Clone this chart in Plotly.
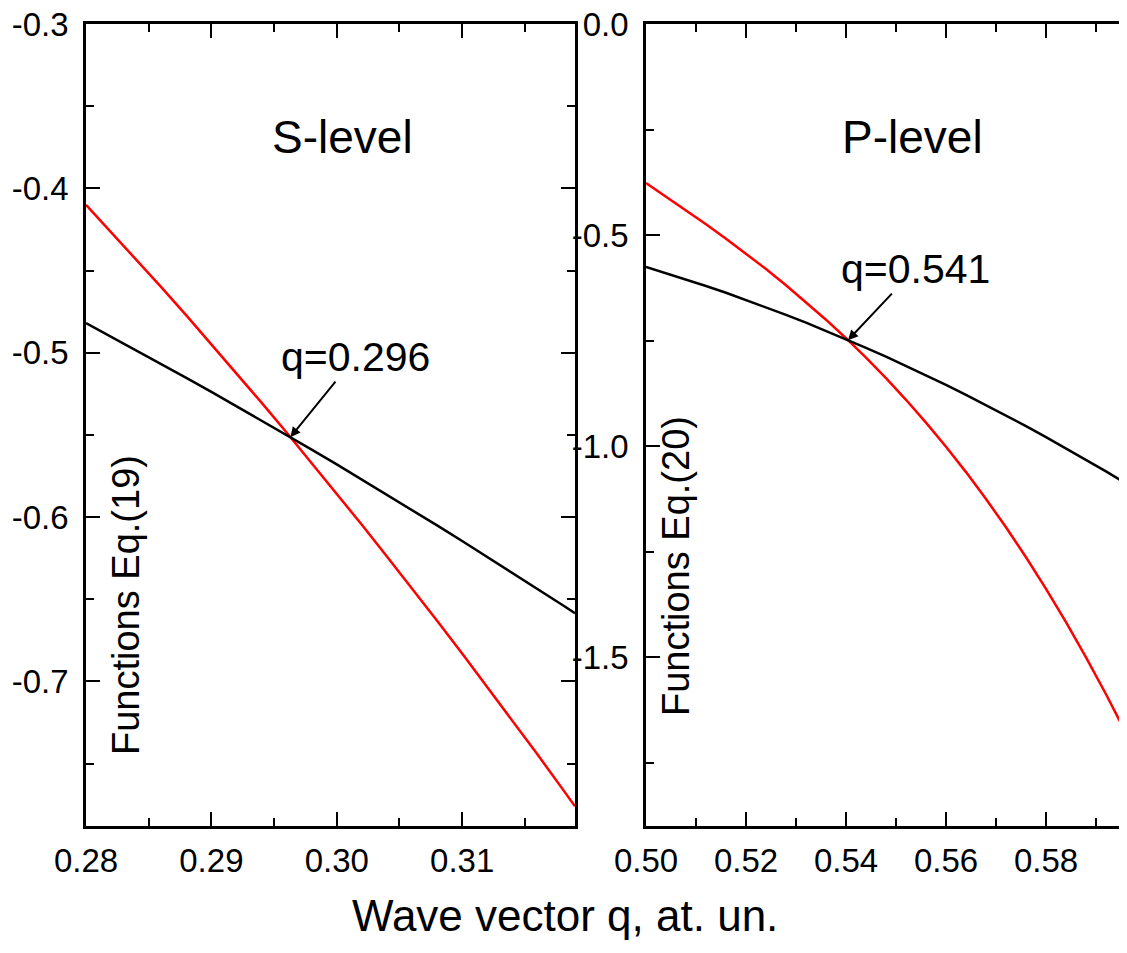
import plotly.graph_objects as go

# ---------------- data ----------------
q_s = [0.280, 0.282, 0.284, 0.286, 0.288, 0.290, 0.292, 0.294, 0.296, 0.298,
       0.300, 0.302, 0.304, 0.306, 0.308, 0.310, 0.312, 0.314, 0.316, 0.318, 0.319]
s_red = [-0.410, -0.4265, -0.4432, -0.4601, -0.4773, -0.4948, -0.5125, -0.5304, -0.5486, -0.5671,
         -0.5858, -0.6047, -0.6240, -0.6434, -0.6631, -0.6831, -0.7033, -0.7237, -0.7444, -0.7654, -0.776]
s_black = [-0.482, -0.4902, -0.4985, -0.5068, -0.5153, -0.5238, -0.5325, -0.5412, -0.5501, -0.5590,
           -0.5680, -0.5772, -0.5864, -0.5957, -0.6051, -0.6146, -0.6242, -0.6338, -0.6437, -0.6535, -0.6585]

q_p = [0.500, 0.504, 0.508, 0.512, 0.516, 0.520, 0.524, 0.528, 0.532, 0.536,
       0.540, 0.544, 0.548, 0.552, 0.556, 0.560, 0.564, 0.568, 0.572, 0.576,
       0.580, 0.584, 0.588, 0.592, 0.596, 0.5978]
p_red = [-0.3768, -0.4086, -0.4411, -0.4743, -0.5085, -0.5439, -0.5806, -0.6188, -0.6588, -0.7005,
         -0.7444, -0.7905, -0.8391, -0.8903, -0.9444, -1.0014, -1.0616, -1.1253, -1.1924, -1.2633,
         -1.3381, -1.4171, -1.5003, -1.5879, -1.6801, -1.7230]
p_black = [-0.5758, -0.5902, -0.6051, -0.6207, -0.6368, -0.6536, -0.6710, -0.6890, -0.7076, -0.7268,
           -0.7466, -0.7671, -0.7881, -0.8098, -0.8320, -0.8549, -0.8784, -0.9025, -0.9272, -0.9526,
           -0.9785, -1.0050, -1.0322, -1.0600, -1.0883, -1.1010]

s_cross = (0.2963, -0.5514)
p_cross = (0.5404, -0.749)

s_xticks = [0.28, 0.29, 0.30, 0.31]
s_xtext = ["0.28", "0.29", "0.30", "0.31"]
s_yticks = [-0.3, -0.4, -0.5, -0.6, -0.7]
s_ytext = ["-0.3", "-0.4", "-0.5", "-0.6", "-0.7"]
p_xticks = [0.50, 0.52, 0.54, 0.56, 0.58]
p_xtext = ["0.50", "0.52", "0.54", "0.56", "0.58"]
p_yticks = [0.0, -0.5, -1.0, -1.5]
p_ytext = ["0.0", "-0.5", "-1.0", "-1.5"]

FONT = "Liberation Sans, Arial, sans-serif"
W, H = 1127, 953
OFF = 8  # page body margin of the html page


def px(x):
    return (x - OFF) / W


def py(y):
    return 1 - (y - OFF) / H


fig = go.Figure()
fig.add_trace(go.Scatter(x=q_s, y=s_red, mode="lines", line=dict(color="#ff0000", width=2.5),
                         xaxis="x", yaxis="y", showlegend=False))
fig.add_trace(go.Scatter(x=q_s, y=s_black, mode="lines", line=dict(color="#000000", width=2.5),
                         xaxis="x", yaxis="y", showlegend=False))
fig.add_trace(go.Scatter(x=q_p, y=p_red, mode="lines", line=dict(color="#ff0000", width=2.5),
                         xaxis="x2", yaxis="y2", showlegend=False))
fig.add_trace(go.Scatter(x=q_p, y=p_black, mode="lines", line=dict(color="#000000", width=2.5),
                         xaxis="x2", yaxis="y2", showlegend=False))

ydom = [py(826), py(24)]
axcommon = dict(showgrid=False, zeroline=False, showline=True, linecolor="black", linewidth=2.5,
                ticks="inside", ticklen=14, tickwidth=2, tickcolor="black", automargin=False,
                ticklabeloverflow="allow",
                tickfont=dict(family=FONT, size=33, color="black"), mirror="ticks")
minor_style = dict(ticks="inside", ticklen=8, tickwidth=2, tickcolor="black")

fig.update_layout(
    width=W, height=H, margin=dict(l=0, r=0, t=0, b=0),
    paper_bgcolor="white", plot_bgcolor="white",
    xaxis=dict(domain=[px(86), px(575)], range=[0.28, 0.319], anchor="y",
               tickvals=s_xticks, ticktext=s_xtext, ticklabelstandoff=4,
               minor=dict(dtick=0.005, **minor_style), **axcommon),
    yaxis=dict(domain=ydom, range=[-0.788, -0.3], anchor="x",
               tickvals=s_yticks, ticktext=s_ytext, ticklabelstandoff=8,
               minor=dict(dtick=0.05, **minor_style), **axcommon),
    xaxis2=dict(domain=[px(646), 1.0], range=[0.50, 0.5978], anchor="y2",
                tickvals=p_xticks, ticktext=p_xtext, ticklabelstandoff=4,
                minor=dict(dtick=0.01, **minor_style), **axcommon),
    yaxis2=dict(domain=ydom, range=[-1.9, 0.0], anchor="x2",
                tickvals=p_yticks, ticktext=p_ytext, ticklabelstandoff=8,
                minor=dict(dtick=0.25, **minor_style), **axcommon),
)


def label(text, x, y, size, angle=0):
    return dict(text=text, x=px(x), y=py(y), xref="paper", yref="paper",
                xanchor="center", yanchor="middle", textangle=angle,
                showarrow=False, font=dict(family=FONT, size=size, color="black"))


ann = [
    label("S-level", 342, 137, 46),
    label("P-level", 913, 137, 46),
    label("Functions Eq.(19)", 126, 605, 38, -90),
    label("Functions Eq.(20)", 676, 566, 38, -90),
    label("Wave vector q, at. un.", 565, 915, 44),
]
ann.append(dict(text="q=0.296", x=s_cross[0], y=s_cross[1], xref="x", yref="y",
                ax=65, ay=-80, showarrow=True, arrowhead=2, arrowsize=1, arrowwidth=2,
                arrowcolor="black", standoff=0, font=dict(family=FONT, size=41, color="black")))
ann.append(dict(text="q=0.541", x=p_cross[0], y=p_cross[1], xref="x2", yref="y2",
                ax=67, ay=-71, showarrow=True, arrowhead=2, arrowsize=1, arrowwidth=2,
                arrowcolor="black", standoff=0, font=dict(family=FONT, size=41, color="black")))
fig.update_layout(annotations=ann)

fig.write_html("out.html")
